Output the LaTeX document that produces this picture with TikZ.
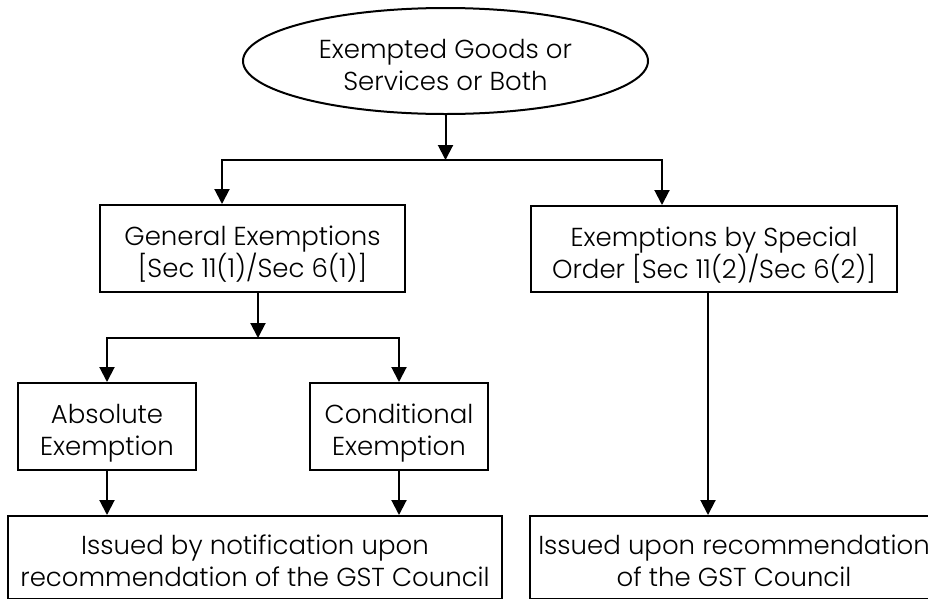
\documentclass[tikz,border=0pt]{standalone}
\usepackage{fontspec}
\setmainfont{Poppins Light}
\usetikzlibrary{shapes.geometric,arrows.meta}
\newcommand{\cale}{\rule{0pt}{33pt}}
\tikzset{
  texte/.style={align=center, inner sep=0pt, execute at end node=\rule[-7pt]{0pt}{7pt}},
  boite/.style={draw, rectangle, line width=2pt, texte},
  fleche/.style={-{Triangle[length=15pt,width=15pt]}, line width=2pt},
}
\begin{document}
\begin{tikzpicture}[x=1pt,y=-1pt,font=\fontsize{26}{32}\selectfont]
  \useasboundingbox (0,0) rectangle (928,598);
  \clip (0,0) rectangle (928,598);
  % le sommet
  \node[draw, ellipse, line width=2pt, minimum width=405pt, minimum height=106pt, texte] (exempt) at (445.5,61) {\cale Exempted Goods or\\Services or Both};
  % les deux branches
  \node[boite, minimum width=305pt, minimum height=87pt] (general) at (252.5,248.5) {\cale General Exemptions\\{}[Sec 11(1)/Sec 6(1)]};
  \node[boite, minimum width=366pt, minimum height=86pt] (special) at (714,249) {\cale Exemptions by Special\\Order [Sec 11(2)/Sec 6(2)]};
  % les exemptions generales
  \node[boite, minimum width=178pt, minimum height=87pt] (absolue) at (107,426.5) {\cale Absolute\\Exemption};
  \node[boite, minimum width=178pt, minimum height=87pt] (conditionnelle) at (399,426.5) {\cale Conditional\\Exemption};
  % en bas
  \node[boite, minimum width=494pt, minimum height=83pt] (notif) at (255,557.5) {\cale Issued by notification upon\\recommendation of the GST Council};
  \node[boite, minimum width=408pt, minimum height=83pt] (recom) at (734,557.5) {\cale Issued upon recommendation\\of the GST Council};
  % les fleches
  \coordinate (j1) at (445.5,160);
  \draw[fleche] (exempt) -- (j1);
  \draw[fleche] (j1) -| ([xshift=-30.5pt]general.north);
  \draw[fleche] (j1) -| ([xshift=-52pt]special.north);
  \coordinate (j2) at (258,338);
  \draw[fleche] ([xshift=5.5pt]general.south) -- (j2);
  \draw[fleche] (j2) -| (absolue.north);
  \draw[fleche] (j2) -| (conditionnelle.north);
  \draw[fleche] (absolue.south) -- (absolue.south |- notif.north);
  \draw[fleche] (conditionnelle.south) -- (conditionnelle.south |- notif.north);
  \draw[fleche] ([xshift=-6pt]special.south) -- ([xshift=-6pt]special.south |- recom.north);
\end{tikzpicture}
\end{document}
